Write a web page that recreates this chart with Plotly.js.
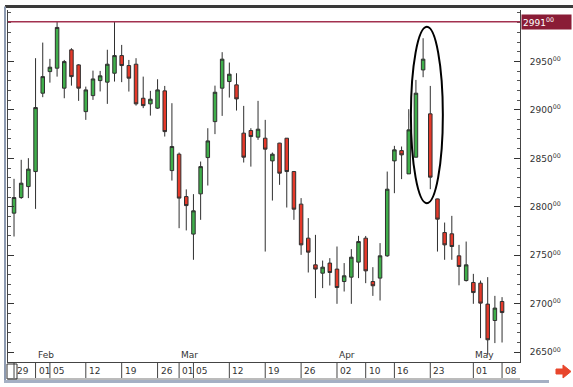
<!DOCTYPE html>
<html><head><meta charset="utf-8">
<script src="https://cdn.plot.ly/plotly-3.0.1.min.js"></script>
<style>html,body{margin:0;padding:0;background:#fff;}#chart{width:573px;height:387px;}</style>
</head><body><div id="chart"></div>
<script>
const dates = [
'2018-01-29','2018-01-30','2018-01-31','2018-02-01','2018-02-02',
'2018-02-05','2018-02-06','2018-02-07','2018-02-08','2018-02-09',
'2018-02-12','2018-02-13','2018-02-14','2018-02-15','2018-02-16',
'2018-02-19','2018-02-20','2018-02-21','2018-02-22','2018-02-23',
'2018-02-26','2018-02-27','2018-02-28','2018-03-01','2018-03-02',
'2018-03-05','2018-03-06','2018-03-07','2018-03-08','2018-03-09',
'2018-03-12','2018-03-13','2018-03-14','2018-03-15','2018-03-16',
'2018-03-19','2018-03-20','2018-03-21','2018-03-22','2018-03-23',
'2018-03-26','2018-03-27','2018-03-28','2018-03-29','2018-03-30',
'2018-04-02','2018-04-03','2018-04-04','2018-04-05',
'2018-04-10','2018-04-11','2018-04-12','2018-04-13',
'2018-04-16','2018-04-17','2018-04-18','2018-04-19','2018-04-20',
'2018-04-23','2018-04-24','2018-04-25','2018-04-26','2018-04-27',
'2018-04-30','2018-05-01','2018-05-02','2018-05-03','2018-05-04',
'2018-05-08'];

const openP = [2793.5,2809.6,2820.9,2836.4,2917.2,2939.5,2943.0,2922.4,2961.9,2946.4,
2898.2,2914.7,2930.2,2928.6,2937.8,2956.0,2945.7,2947.1,2912.0,2906.2,
2901.8,2919.6,2837.4,2854.3,2810.6,2771.9,2813.4,2850.8,2887.9,2922.4,
2929.2,2925.8,2876.0,2878.7,2871.9,2870.8,2847.4,2865.7,2870.8,2836.4,
2802.8,2767.7,2740.2,2731.6,2742.0,2735.8,2723.0,2727.5,2743.0,2767.7,
2723.0,2726.5,2749.5,2847.4,2858.0,2834.0,2851.2,2941.2,2895.9,2808.2,
2773.5,2772.2,2749.5,2724.0,2722.0,2721.3,2699.7,2682.8,2702.4];

const highP = [2828.9,2848.5,2850.2,2953.3,2969.4,2952.6,2991.0,2951.5,2963.6,2947.1,
2924.0,2940.5,2940.2,2962.0,2991.0,2967.0,2951.5,2953.3,2934.3,2919.6,
2931.6,2924.7,2906.9,2856.0,2818.0,2813.1,2846.7,2881.1,2925.0,2959.5,
2948.8,2937.8,2904.1,2881.1,2909.3,2889.7,2856.0,2866.0,2871.0,2837.0,
2809.0,2788.4,2771.1,2744.6,2747.1,2759.1,2742.0,2756.4,2770.1,2770.0,
2737.8,2762.6,2836.4,2862.9,2862.2,2900.7,2930.9,2973.9,2924.7,2808.5,
2783.8,2790.7,2760.8,2764.2,2730.9,2724.0,2727.5,2708.2,2706.9];

const lowP = [2769.4,2808.2,2809.0,2797.9,2913.1,2928.1,2934.3,2912.0,2925.0,2909.3,
2889.7,2910.3,2919.0,2906.2,2929.2,2928.6,2918.9,2904.4,2901.8,2894.1,
2901.0,2872.5,2827.1,2778.0,2775.7,2745.4,2786.6,2822.0,2875.0,2893.8,
2912.7,2899.3,2845.7,2841.5,2869.1,2753.9,2806.5,2822.7,2799.3,2786.6,
2750.5,2732.3,2705.9,2716.2,2718.9,2700.0,2712.7,2700.0,2726.5,2721.3,
2708.2,2703.4,2748.5,2814.1,2828.6,2834.0,2851.0,2933.7,2818.2,2753.9,
2745.4,2745.4,2719.1,2723.0,2700.0,2664.6,2647.4,2659.5,2660.1];

const closeP = [2809.6,2824.4,2838.9,2902.4,2934.3,2944.0,2985.0,2949.8,2934.3,2922.4,
2920.6,2931.9,2935.1,2947.1,2956.0,2945.7,2932.7,2906.2,2904.4,2911.0,
2920.6,2877.6,2862.2,2809.0,2801.3,2795.9,2841.5,2868.0,2918.2,2952.3,
2936.8,2911.3,2851.2,2872.5,2880.1,2859.5,2854.3,2834.7,2836.4,2797.6,
2760.8,2753.3,2735.8,2737.8,2732.3,2716.8,2728.9,2748.1,2764.2,2734.0,
2718.6,2749.5,2818.2,2858.8,2853.6,2879.4,2917.2,2952.3,2830.6,2787.3,
2760.8,2759.1,2738.5,2740.2,2711.6,2700.7,2662.9,2695.6,2691.0];

const dateTickVals = ['2018-01-29','2018-02-01','2018-02-05','2018-02-12','2018-02-19','2018-02-26',
'2018-03-01','2018-03-05','2018-03-12','2018-03-19','2018-03-26','2018-04-02','2018-04-10',
'2018-04-16','2018-04-23','2018-05-01','2018-05-08'];
const dateTickText = ['29','01','05','12','19','26','01','05','12','19','26','02','10','16','23','01','08'];
const monthLabels = ['Feb','Mar','Apr','May'];
const monthStarts = ['2018-02-01','2018-03-01','2018-04-02','2018-05-01'];
const priceTicks = [2650,2700,2750,2800,2850,2900,2950];
const priceTickText = priceTicks.map(v => v + '<sup>00</sup>');
const resistanceLevel = 2991;
const resistanceText = '2991<sup>00</sup>';

// pixel -> paper helpers (plot area: x 8..520, y 10..362)
const PL = 8, PR = 520, PT = 10, PB = 362;
const px = x => (x - PL) / (PR - PL);
const py = y => (PB - y) / (PB - PT);

const FONT = 'DejaVu Sans';
const txtCol = '#333';

const trace = {
  type: 'candlestick',
  x: dates, open: openP, high: highP, low: lowP, close: closeP,
  increasing: {fillcolor: '#3fae4a', line: {color: '#2f2f2f', width: 1}},
  decreasing: {fillcolor: '#e5392a', line: {color: '#2f2f2f', width: 1}},
  whiskerwidth: 0,
  hoverinfo: 'skip',
  showlegend: false
};

const shapes = [];
const annotations = [];
// separators and labels in the date strip
dateTickVals.forEach((d, k) => {
  const i = dates.indexOf(d);
  shapes.push({type: 'line', xref: 'x', x0: i, x1: i, yref: 'paper',
    y0: 0, y1: py(378), line: {color: '#444', width: 1}});
  annotations.push({x: i, xref: 'x', xanchor: 'left', xshift: 1, y: py(371), yref: 'paper', yanchor: 'middle',
    text: dateTickText[k], showarrow: false, font: {family: FONT, size: 9, color: txtCol}});
});
// resistance line
shapes.push({type: 'line', xref: 'paper', x0: 0, x1: 1, yref: 'y',
  y0: resistanceLevel, y1: resistanceLevel, line: {color: '#a2314f', width: 1.5}});
// ellipse highlight
shapes.push({type: 'circle', xref: 'x', x0: 55.3, x1: 59.75, yref: 'y', y0: 2803.8, y1: 2985.6,
  line: {color: '#000', width: 2}});
// frame decorations
shapes.push({type: 'line', xref: 'paper', yref: 'paper', x0: px(5), x1: px(573), y0: py(6.5), y1: py(6.5),
  line: {color: '#3a3a3a', width: 3}});
shapes.push({type: 'line', xref: 'paper', yref: 'paper', x0: px(5), x1: px(5), y0: py(6.5), y1: py(382),
  line: {color: '#8d9ab0', width: 2}});
shapes.push({type: 'line', xref: 'paper', yref: 'paper', x0: px(4), x1: px(549), y0: py(381.5), y1: py(381.5),
  line: {color: '#a5b0c4', width: 3}});
shapes.push({type: 'line', xref: 'paper', yref: 'paper', x0: px(8), x1: px(520), y0: py(379), y1: py(379),
  line: {color: '#777', width: 1}});
shapes.push({type: 'rect', xref: 'paper', yref: 'paper', x0: px(7), x1: px(17), y0: py(364), y1: py(379),
  line: {color: '#333', width: 1}, fillcolor: 'rgba(0,0,0,0)'});
// red arrow bottom right
const arrowPts = [[556,369],[563,369],[563,365],[571,371.5],[563,378],[563,374],[556,374]];
shapes.push({type: 'path', xref: 'paper', yref: 'paper',
  path: 'M ' + arrowPts.map(p => px(p[0]).toFixed(5) + ',' + py(p[1]).toFixed(5)).join(' L ') + ' Z',
  fillcolor: '#e8462c', line: {color: '#e8462c', width: 1}});

monthLabels.forEach((m, k) => annotations.push({
  x: dates.indexOf(monthStarts[k]), xref: 'x', y: 0, yref: 'paper', yanchor: 'bottom', xanchor: 'left',
  xshift: 0, yshift: 0, text: m, showarrow: false, font: {family: FONT, size: 9, color: txtCol}
}));
annotations.push({
  x: 1, xref: 'paper', xanchor: 'left', xshift: 1, y: resistanceLevel, yref: 'y', yanchor: 'middle',
  text: resistanceText, showarrow: false, bgcolor: '#8a1c36', borderpad: 1, width: 47, align: 'left',
  font: {family: FONT, size: 9, color: '#fff'}
});

const layout = {
  width: 573, height: 387, autosize: false,
  margin: {l: PL, r: 573 - PR, t: PT, b: 387 - PB, pad: 0},
  paper_bgcolor: '#fff', plot_bgcolor: '#fff',
  showlegend: false,
  xaxis: {
    type: 'category', range: [-0.84, 70.5], fixedrange: true,
    rangeslider: {visible: false},
    showgrid: false, zeroline: false, showline: true, linecolor: '#444', linewidth: 1,
    showticklabels: false, ticks: ''
  },
  yaxis: {
    side: 'right', range: [2640, 3003], fixedrange: true,
    showgrid: false, zeroline: false, showline: true, linecolor: '#444', linewidth: 1, mirror: 'ticks',
    tickmode: 'array', tickvals: priceTicks, ticktext: priceTickText,
    ticks: 'inside', ticklen: 6, tickcolor: '#333', tickwidth: 1,
    minor: {tickmode: 'linear', tick0: 2650, dtick: 10, ticks: 'inside', ticklen: 3, tickcolor: '#555'},
    ticklabelstandoff: 7,
    tickfont: {family: FONT, size: 9, color: txtCol}
  },
  shapes: shapes,
  annotations: annotations
};

Plotly.newPlot('chart', [trace], layout, {staticPlot: true, displayModeBar: false});
</script>
</body></html>
